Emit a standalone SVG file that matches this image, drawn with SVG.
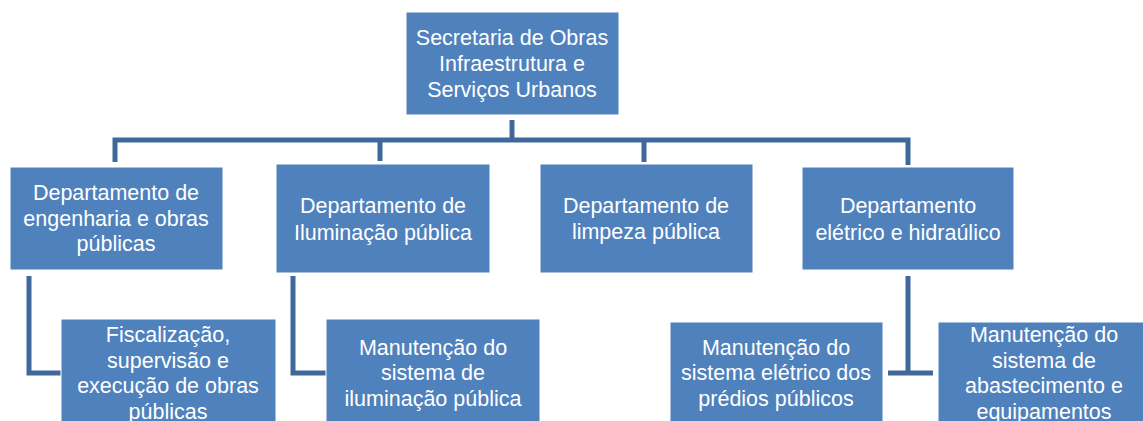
<svg xmlns="http://www.w3.org/2000/svg" width="1143" height="421" viewBox="0 0 1143 421">
<style>
.box{fill:#4F81BD;stroke:#ffffff;stroke-width:1}
.t{font-family:"Liberation Sans",Arial,sans-serif;font-size:21.5px;fill:#ffffff;text-anchor:middle}
.c{fill:none;stroke:#41689A;stroke-width:5;stroke-linejoin:miter}
</style>
<rect width="1143" height="421" fill="#ffffff"/>
<g id="connectors">
<path class="c" d="M512,120 V140 M115,162 V140 H908 V165 M380,140 V161 M644,140 V162"/>
<path class="c" d="M29,276 V373 H61"/>
<path class="c" d="M293,276 V373 H326"/>
<path class="c" d="M908,276 V373 M888,373 H933"/>
</g>
<g id="top">
<rect class="box" x="406" y="12" width="213" height="103"/>
<text class="t" x="512" y="45">Secretaria de Obras</text>
<text class="t" x="512" y="71">Infraestrutura e</text>
<text class="t" x="512" y="97">Serviços Urbanos</text>
</g>
<g id="dept1">
<rect class="box" x="10" y="167" width="213" height="103"/>
<text class="t" x="116" y="200">Departamento de</text>
<text class="t" x="116" y="226">engenharia e obras</text>
<text class="t" x="116" y="251">públicas</text>
</g>
<g id="dept2">
<rect class="box" x="276" y="164" width="214" height="109"/>
<text class="t" x="383" y="213">Departamento de</text>
<text class="t" x="383" y="240">Iluminação pública</text>
</g>
<g id="dept3">
<rect class="box" x="540" y="164" width="213" height="109"/>
<text class="t" x="646" y="213">Departamento de</text>
<text class="t" x="646" y="239">limpeza pública</text>
</g>
<g id="dept4">
<rect class="box" x="802" y="167" width="212" height="103"/>
<text class="t" x="908" y="213">Departamento</text>
<text class="t" x="908" y="240">elétrico e hidraúlico</text>
</g>
<g id="sub1">
<rect class="box" x="61" y="319" width="215" height="110"/>
<text class="t" x="168" y="342">Fiscalização,</text>
<text class="t" x="168" y="368">supervisão e</text>
<text class="t" x="168" y="393">execução de obras</text>
<text class="t" x="168" y="419">públicas</text>
</g>
<g id="sub2">
<rect class="box" x="326" y="319" width="214" height="110"/>
<text class="t" x="433" y="355">Manutenção do</text>
<text class="t" x="433" y="380">sistema de</text>
<text class="t" x="433" y="406">iluminação pública</text>
</g>
<g id="sub3">
<rect class="box" x="670" y="322" width="213" height="110"/>
<text class="t" x="776" y="355">Manutenção do</text>
<text class="t" x="776" y="380">sistema elétrico dos</text>
<text class="t" x="776" y="406">prédios públicos</text>
</g>
<g id="sub4">
<rect class="box" x="938" y="322" width="213" height="110"/>
<text class="t" x="1044" y="342">Manutenção do</text>
<text class="t" x="1044" y="368">sistema de</text>
<text class="t" x="1044" y="393">abastecimento e</text>
<text class="t" x="1044" y="419">equipamentos</text>
</g>
</svg>
